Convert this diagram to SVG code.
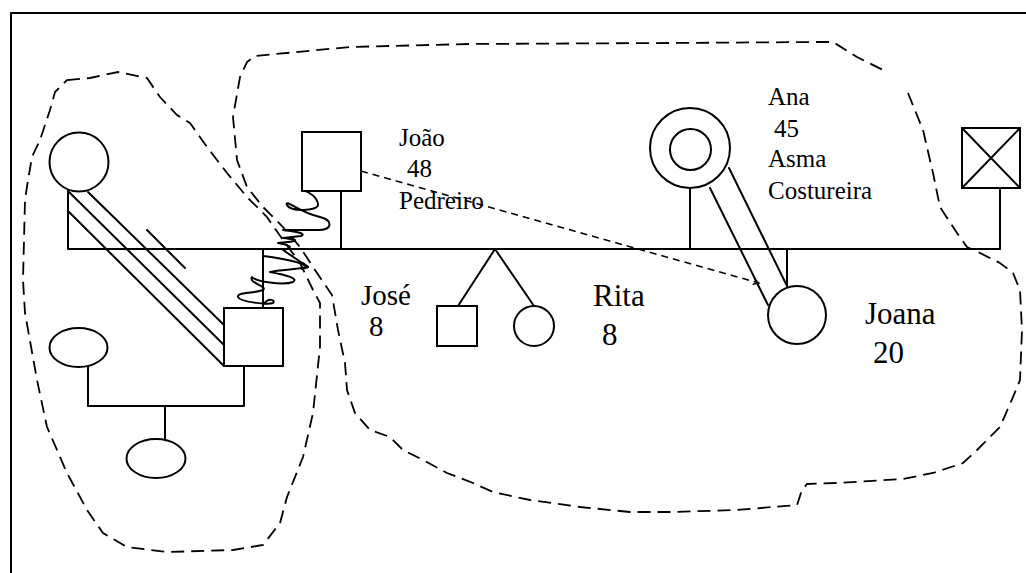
<svg xmlns="http://www.w3.org/2000/svg" width="1026" height="573" viewBox="0 0 1026 573">
<style>
.s{fill:none;stroke:#000;stroke-width:2;stroke-linejoin:round;stroke-linecap:round}
.n{fill:#fff;stroke:#000;stroke-width:2}
.b{fill:none;stroke:#000;stroke-width:1.8;stroke-dasharray:13 7}
.d{fill:none;stroke:#000;stroke-width:1.6;stroke-dasharray:7 5}
.z{fill:none;stroke:#000;stroke-width:2;stroke-linejoin:round;stroke-linecap:round}
text{font-family:"Liberation Serif","Times New Roman",serif;fill:#000}
.t1{font-size:25px}
.t2{font-size:29px}
.t3{font-size:31px}
</style>
<defs>
<marker id="ah" markerWidth="8" markerHeight="8" refX="6" refY="4" orient="auto" markerUnits="userSpaceOnUse">
<path d="M0,1 L6,4 L0,7" fill="none" stroke="#000" stroke-width="1.4"/>
</marker>
</defs>
<rect width="1026" height="573" fill="#fff"/>
<g id="frame">
<path class="s" d="M11,573 L11,13 L1026,13"/>
</g>
<g id="boundaries">
<path class="b" d="M67,80 L90,78 L118,72 L147,78 L160,97 L177,115 L190,123 L207,147 L227,173 L247,197 L267,217 L283,240 L300,263 L313,290 L320,303 L320,347 L313,413 L303,457 L287,497 L280,523 L263,545 L233,550 L167,552 L127,547 L103,533 L87,510 L67,473 L47,427 L37,380 L25,313 L23,280 L25,200 L28,180 L32,157 L40,140 L50,110 L55,92 Z"/>
<path class="b" d="M908,93 L923,130 L933,173 L940,207 L957,233 L967,247 L980,253 L1000,263 L1013,273 L1020,290 L1022,330 L1020,380 L1013,397 L1000,427 L977,450 L963,463 L933,473 L903,479 L837,483 L807,484 L802,490 L797,505 L737,510 L670,512 L630,512 L580,507 L530,500 L493,492 L473,483 L447,473 L423,460 L403,450 L390,437 L370,430 L355,413 L347,390 L345,363 L338,330 L332,295 L313,267 L300,247 L283,227 L263,207 L247,187 L237,160 L233,117 L240,77 L247,62 L255,56 L350,47 L470,44 L670,43 L817,42 L833,42 L857,57 L883,70"/>
</g>
<g id="connectors">
<path class="s" d="M68,191 L68,249 L1000,249"/>
<path class="s" d="M341,191 L341,249"/>
<path class="s" d="M690,188 L690,249"/>
<path class="s" d="M1000,188 L1000,249"/>
<path class="s" d="M263,249 L263,308"/>
<path class="s" d="M787,249 L787,286"/>
<path class="s" d="M458,306 L495,249 L534,306"/>
<path class="s" d="M88,366 L88,406 L244,406 L244,366"/>
<path class="s" d="M165,406 L165,440"/>
<path class="s" d="M88,192 L224,325"/>
<path class="s" d="M69,192 L224,345"/>
<path class="s" d="M69,212 L224,366"/>
<path class="s" d="M147,230 L185,268"/>
<path class="s" d="M710,188 L768,305"/>
<path class="s" d="M729,168 L787,286"/>
<path class="d" d="M361,171 L759,283" marker-end="url(#ah)"/>
<path class="z" d="M303,190 C310,192 318,198 318,205 C318,211 290,212 287,205 C284,198 300,213 320,217 C333,220 333,230 318,230 L283,230 C300,232 306,234 301,236 L283,238 C300,240 300,241 278,243 C295,246 291,248 283,250 L308,267"/>
<path class="z" d="M303,263 L308,267 L302,269"/>
<path class="z" d="M263,256 C280,258 300,262 308,267 C292,270 276,270 270,272 C285,275 299,278 293,282 C283,286 255,281 252,277 C248,283 268,286 263,290 C252,294 237,292 238,297 C240,302 268,305 273,303 C276,300 268,297 263,305"/>
</g>
<g id="grandmother">
<circle class="n" cx="79" cy="162" r="29.5"/>
</g>
<g id="husband">
<rect class="n" x="224" y="308" width="59" height="58"/>
</g>
<g id="wife1">
<ellipse class="n" cx="78.5" cy="347.5" rx="29" ry="19.5"/>
</g>
<g id="child1">
<ellipse class="n" cx="156" cy="458.5" rx="29.5" ry="19.5"/>
</g>
<g id="joao">
<rect class="n" x="302" y="132" width="59" height="59"/>
<text class="t1" x="399" y="146">João</text>
<text class="t1" x="407" y="177">48</text>
<text class="t1" x="399" y="209">Pedreiro</text>
</g>
<g id="ana">
<circle class="n" cx="690" cy="148" r="40"/>
<circle class="n" cx="690.5" cy="149.5" r="20.5"/>
<text class="t1" x="768" y="105">Ana</text>
<text class="t1" x="774" y="137">45</text>
<text class="t1" x="768" y="167">Asma</text>
<text class="t1" x="768" y="199">Costureira</text>
</g>
<g id="deceased">
<rect class="n" x="962" y="128" width="58" height="60"/>
<path class="s" d="M962,128 L1020,188 M1020,128 L962,188"/>
</g>
<g id="jose">
<rect class="n" x="437" y="306" width="40" height="40"/>
<text class="t2" x="361" y="305">José</text>
<text class="t2" x="369" y="336">8</text>
</g>
<g id="rita">
<circle class="n" cx="534" cy="326" r="20"/>
<text class="t3" x="593" y="306">Rita</text>
<text class="t3" x="602" y="345">8</text>
</g>
<g id="joana">
<circle class="n" cx="797" cy="315" r="29"/>
<text class="t3" x="865" y="324">Joana</text>
<text class="t3" x="873" y="363">20</text>
</g>
</svg>
